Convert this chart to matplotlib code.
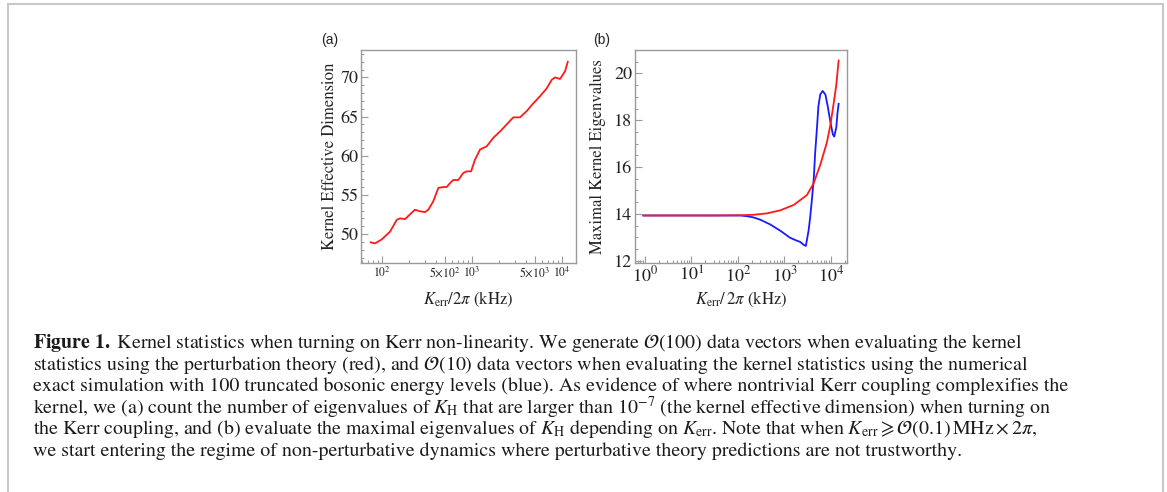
import numpy as np
import matplotlib.pyplot as plt
from matplotlib.lines import Line2D
from matplotlib.ticker import FixedLocator, NullFormatter

plt.rcParams["mathtext.fontset"] = "stix"
SERIF = "STIXGeneral"
SANS = "Liberation Sans"

# ===============================
# Data
# ===============================
# (a) kernel effective dimension vs Kerr/2pi (kHz)
kerr_a = [75.5, 84.3, 100, 124, 147, 160, 182, 206, 234, 267, 303, 330, 375,
          427, 484, 527, 574, 625, 711, 807, 879, 984, 1089, 1239, 1469, 1741,
          2065, 2448, 2903, 3442, 4083, 4842, 5741, 6808, 7745, 8433, 9575,
          10890, 11670]
dim_a = [48.94, 48.8, 49.3, 50.3, 51.8, 52.0, 51.9, 52.5, 53.1, 52.9, 52.8,
         53.1, 54.2, 55.9, 56.0, 56.0, 56.5, 56.9, 56.9, 57.8, 58.0, 58.0,
         59.5, 60.8, 61.2, 62.3, 63.1, 64.0, 64.9, 64.9, 65.7, 66.7, 67.6,
         68.6, 69.7, 70.0, 69.8, 70.8, 72.0]

# (b) maximal kernel eigenvalue, perturbation theory (red)
kerr_red = [0.92, 5.7, 29.7, 111, 215, 418, 810, 1580, 3030, 4230, 5900,
            8170, 9730, 11400, 13000, 14630]
eig_red = [13.93, 13.93, 13.93, 13.94, 13.96, 14.02, 14.15, 14.38, 14.8,
           15.3, 16.1, 17.05, 17.8, 18.7, 19.5, 20.55]

# (b) maximal kernel eigenvalue, exact simulation (blue)
kerr_blue = [0.92, 6, 30, 111, 155, 214, 302, 490, 813, 1318, 1862, 2188,
             2570, 2884, 3311, 3548, 3890, 4266, 4571, 5012, 5370, 5888,
             6607, 7586, 8511, 9772, 10965, 11749, 13030, 13800, 14630]
eig_blue = [13.93, 13.93, 13.93, 13.93, 13.9, 13.85, 13.75, 13.55, 13.28,
            12.98, 12.85, 12.8, 12.68, 12.63, 13.3, 13.8, 14.6, 15.5, 16.6,
            17.7, 18.6, 19.1, 19.25, 19.1, 18.6, 17.9, 17.4, 17.3, 17.7,
            18.3, 18.7]

caption_lines = [
    r"$\mathbf{Figure\ 1.}$ Kernel statistics when turning on Kerr non-linearity. We generate $\mathcal{O}(100)$ data vectors when evaluating the kernel",
    r"statistics using the perturbation theory (red), and $\mathcal{O}(10)$ data vectors when evaluating the kernel statistics using the numerical",
    r"exact simulation with 100 truncated bosonic energy levels (blue). As evidence of where nontrivial Kerr coupling complexifies the",
    r"kernel, we (a) count the number of eigenvalues of $K_{\mathrm{H}}$ that are larger than $10^{-7}$ (the kernel effective dimension) when turning on",
    r"the Kerr coupling, and (b) evaluate the maximal eigenvalues of $K_{\mathrm{H}}$ depending on $K_{\mathrm{err}}$. Note that when $K_{\mathrm{err}} \geqslant \mathcal{O}(0.1)\,\mathrm{MHz} \times 2\pi$,",
    r"we start entering the regime of non-perturbative dynamics where perturbative theory predictions are not trustworthy.",
]

# ===============================
# Figure
# ===============================
W, H = 1167, 492
fig = plt.figure(figsize=(W / 100, H / 100), dpi=100)

SPINE = "#9a9a9a"
TXT = "#222222"


def px_axes(l, r, t, b):
    return fig.add_axes([l / W, 1 - b / H, (r - l) / W, (b - t) / H])


def style(ax):
    for s in ax.spines.values():
        s.set_color(SPINE)
        s.set_linewidth(1.0)
    ax.tick_params(which="both", direction="in", color=SPINE, top=False,
                   right=False, labelcolor=TXT, pad=2)
    ax.tick_params(which="major", length=5, width=0.8)
    ax.tick_params(which="minor", length=2.5, width=0.8)


# ---- (a)
ax1 = px_axes(361, 576, 50, 263)
style(ax1)
ax1.plot(kerr_a, dim_a, color="#ff1a1a", lw=1.3)
ax1.set_xscale("log")
ax1.set_xlim(59, 14400)
ax1.set_ylim(46.3, 73.5)
ax1.set_yticks([50, 55, 60, 65, 70])
ax1.yaxis.set_minor_locator(FixedLocator(np.arange(47, 74, 1)))
major_a = [100, 500, 1000, 5000, 10000]
ax1.xaxis.set_major_locator(FixedLocator(major_a))
ax1.set_xticklabels([r"$10^2$", r"$5{\times}10^2$", r"$10^3$",
                     r"$5{\times}10^3$", r"$10^4$"])
minor_a = [m * 10 ** e for e in (1, 2, 3) for m in range(2, 10)
           if 59 < m * 10 ** e < 14400 and m * 10 ** e not in major_a]
ax1.xaxis.set_minor_locator(FixedLocator(minor_a))
ax1.xaxis.set_minor_formatter(NullFormatter())
for lab in ax1.get_xticklabels():
    lab.set_fontfamily(SANS)
    lab.set_fontsize(8.5)
for lab in ax1.get_yticklabels():
    lab.set_fontfamily(SERIF)
    lab.set_fontsize(13)
ax1.set_ylabel("Kernel Effective Dimension", family=SERIF, fontsize=12,
               color=TXT)
ax1.yaxis.set_label_coords(-0.107, 0.5)
ax1.set_xlabel(r"$K_{\mathrm{err}}/2\pi$ (kHz)", family=SERIF, fontsize=12,
               color=TXT)
ax1.xaxis.set_label_coords(0.5, -0.125)
fig.text(321 / W, 1 - 40 / H, "(a)", family=SANS, fontsize=10, color=TXT,
         va="center")

# ---- (b)
ax2 = px_axes(635, 847, 50, 263)
style(ax2)
ax2.plot(kerr_blue, eig_blue, color="#1a1aff", lw=1.3)
ax2.plot(kerr_red, eig_red, color="#ff1a1a", lw=1.3)
ax2.set_xscale("log")
ax2.set_xlim(10 ** -0.215, 10 ** 4.345)
ax2.set_ylim(11.9, 21.0)
ax2.set_yticks([12, 14, 16, 18, 20])
ax2.yaxis.set_minor_locator(FixedLocator(np.arange(12, 21.01, 0.5)))
ax2.xaxis.set_major_locator(FixedLocator([1, 10, 100, 1000, 10000]))
ax2.set_xticklabels([r"$10^0$", r"$10^1$", r"$10^2$", r"$10^3$", r"$10^4$"])
minor_b = [m * 10 ** e for e in range(-1, 5) for m in range(2, 10)
           if 10 ** -0.215 < m * 10 ** e < 10 ** 4.345]
ax2.xaxis.set_minor_locator(FixedLocator(minor_b))
ax2.xaxis.set_minor_formatter(NullFormatter())
for lab in ax2.get_xticklabels() + ax2.get_yticklabels():
    lab.set_fontfamily(SERIF)
    lab.set_fontsize(13)
ax2.set_ylabel("Maximal Kernel Eigenvalues", family=SERIF, fontsize=12,
               color=TXT)
ax2.yaxis.set_label_coords(-0.137, 0.5)
ax2.set_xlabel(r"$K_{\mathrm{err}}/\,2\pi$ (kHz)", family=SERIF, fontsize=12,
               color=TXT)
ax2.xaxis.set_label_coords(0.5, -0.125)
fig.text(593 / W, 1 - 40 / H, "(b)", family=SANS, fontsize=10, color=TXT,
         va="center")

# ---- caption
y0 = 343
for i, line in enumerate(caption_lines):
    fig.text(33 / W, 1 - (y0 + i * 21.6) / H, line, family=SERIF,
             fontsize=14.3, color="#1a1a1a", va="center")

# ---- page border (top, left, right)
border = dict(color="#c8c8c8", lw=1.5, transform=None)
fig.add_artist(Line2D([7.5, 7.5], [0, H - 3.5], **border))
fig.add_artist(Line2D([7.5, 1162.5], [H - 3.5, H - 3.5], **border))
fig.add_artist(Line2D([1162.5, 1162.5], [0, H - 3.5], **border))

fig.savefig("out.png", dpi=100)
